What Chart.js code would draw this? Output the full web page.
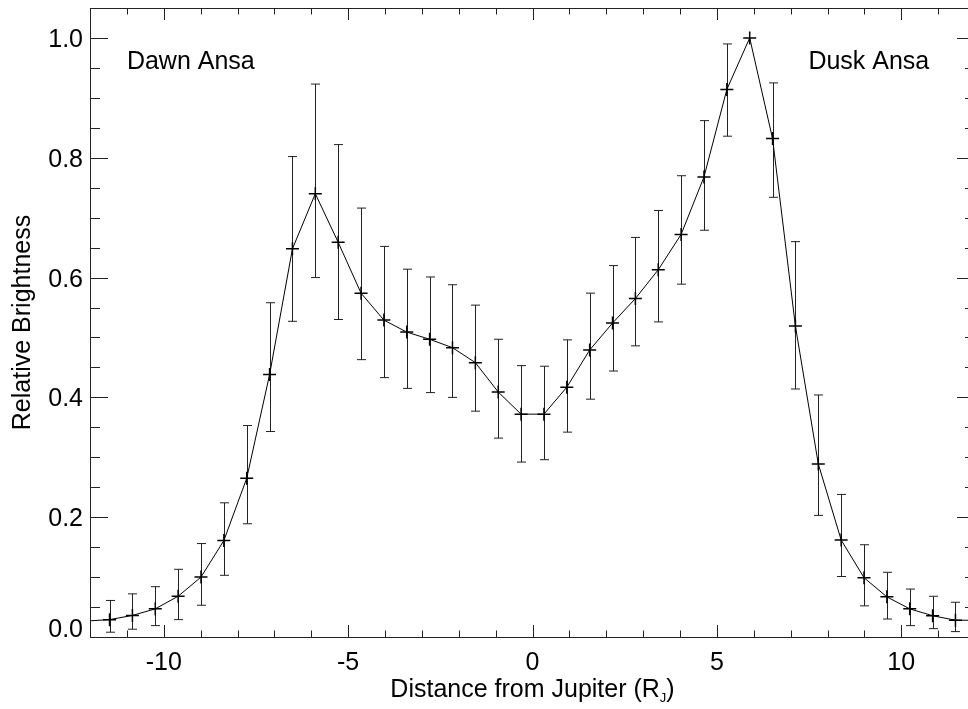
<!DOCTYPE html>
<html>
<head>
<meta charset="utf-8">
<script src="https://cdn.jsdelivr.net/npm/chart.js@4"></script>
<style>
  html, body { margin: 0; padding: 0; background: #fff; overflow: hidden; }
  #wrap { width: 968px; height: 709px; overflow: hidden; }
</style>
</head>
<body>
<div id="wrap"><canvas id="brightness" width="984" height="709"></canvas></div>
<script>
// distance from Jupiter (R_J) of each sample
const distance = [-11.47, -10.85, -10.23, -9.61, -8.99, -8.37, -7.75, -7.13, -6.51, -5.89,
  -5.27, -4.65, -4.03, -3.41, -2.79, -2.17, -1.55, -0.93, -0.31, 0.31,
  0.93, 1.55, 2.17, 2.79, 3.41, 4.03, 4.65, 5.27, 5.89, 6.51,
  7.13, 7.75, 8.37, 8.99, 9.61, 10.23, 10.85, 11.47];
const brightness = [0.029, 0.036, 0.047, 0.068, 0.100, 0.161, 0.265, 0.438, 0.648, 0.740,
  0.659, 0.574, 0.529, 0.509, 0.497, 0.483, 0.458, 0.409, 0.372, 0.372,
  0.417, 0.479, 0.524, 0.565, 0.613, 0.672, 0.768, 0.914, 1.000, 0.832,
  0.519, 0.289, 0.162, 0.099, 0.067, 0.047, 0.0355, 0.028];
const errLow = [0.008, 0.013, 0.019, 0.029, 0.053, 0.103, 0.189, 0.343, 0.527, 0.600,
  0.530, 0.463, 0.433, 0.415, 0.408, 0.400, 0.377, 0.332, 0.292, 0.296,
  0.342, 0.397, 0.444, 0.486, 0.526, 0.589, 0.679, 0.836, 1.000, 0.734,
  0.414, 0.203, 0.101, 0.052, 0.030, 0.019, 0.014, 0.009];
const errHigh = [0.061, 0.072, 0.084, 0.113, 0.156, 0.224, 0.353, 0.558, 0.802, 0.923,
  0.822, 0.716, 0.652, 0.614, 0.601, 0.588, 0.554, 0.497, 0.453, 0.452,
  0.496, 0.574, 0.620, 0.667, 0.712, 0.770, 0.862, 0.990, 1.000, 0.925,
  0.660, 0.404, 0.238, 0.154, 0.108, 0.080, 0.068, 0.058];
// where the curve meets the frame
const edgeX = [-12, 12];
const edgeY = [0.027, 0.028];

const xTicks = [-10, -5, 0, 5, 10];
const xTickLabels = ['-10', '-5', '0', '5', '10'];
const yTicks = [0, 0.2, 0.4, 0.6, 0.8, 1.0];
const yTickLabels = ['0.0', '0.2', '0.4', '0.6', '0.8', '1.0'];

const FONT = '25px "Liberation Sans", Arial, sans-serif';

const curve = [{x: edgeX[0], y: edgeY[0]}]
  .concat(distance.map((d, i) => ({x: d, y: brightness[i]})))
  .concat([{x: edgeX[1], y: edgeY[1]}]);
const points = distance.map((d, i) => ({x: d, y: brightness[i]}));

const errorBars = {
  id: 'errorBars',
  beforeDatasetsDraw(chart) {
    const {ctx, scales: {x, y}} = chart;
    ctx.save();
    ctx.strokeStyle = '#222';
    ctx.lineWidth = 1;
    distance.forEach((d, i) => {
      if (errHigh[i] - errLow[i] <= 0) return;
      const px = Math.round(x.getPixelForValue(d)) + 0.5;
      const top = y.getPixelForValue(errHigh[i]);
      const bot = y.getPixelForValue(errLow[i]);
      ctx.beginPath();
      ctx.moveTo(px, top); ctx.lineTo(px, bot);
      ctx.moveTo(px - 4.5, top); ctx.lineTo(px + 4.5, top);
      ctx.moveTo(px - 4.5, bot); ctx.lineTo(px + 4.5, bot);
      ctx.stroke();
    });
    ctx.restore();
  }
};

const frame = {
  id: 'frame',
  afterDraw(chart) {
    const {ctx, chartArea: a, scales: {x, y}} = chart;
    ctx.save();
    ctx.strokeStyle = '#222';
    ctx.lineWidth = 1;
    ctx.strokeRect(a.left + 0.5, a.top + 0.5, a.right - a.left, a.bottom - a.top);
    ctx.beginPath();
    // x ticks, inward on bottom and top
    for (let v = -12; v <= 12; v++) {
      const px = Math.round(x.getPixelForValue(v)) + 0.5;
      const len = v % 5 === 0 ? 12 : 6.5;
      ctx.moveTo(px, a.bottom); ctx.lineTo(px, a.bottom - len);
      ctx.moveTo(px, a.top); ctx.lineTo(px, a.top + len);
    }
    // y ticks, inward on left and right
    for (let k = 0; k <= 21; k++) {
      const v = k * 0.05;
      const py = Math.round(y.getPixelForValue(v)) + 0.5;
      const len = k % 4 === 0 ? 18 : 10;
      ctx.moveTo(a.left, py); ctx.lineTo(a.left + len, py);
      ctx.moveTo(a.right, py); ctx.lineTo(a.right - len, py);
    }
    ctx.stroke();

    ctx.fillStyle = '#000';
    ctx.font = FONT;
    ctx.textBaseline = 'alphabetic';
    ctx.textAlign = 'center';
    xTicks.forEach((v, i) => ctx.fillText(xTickLabels[i], x.getPixelForValue(v), 670));
    ctx.textAlign = 'right';
    yTicks.forEach((v, i) => {
      const py = y.getPixelForValue(v);
      ctx.fillText(yTickLabels[i], a.left - 7, v === 0 ? a.bottom : py + 9);
    });

    // x title with subscript
    const main = 'Distance from Jupiter (R';
    ctx.font = FONT;
    const w1 = ctx.measureText(main).width;
    ctx.font = '13px "Liberation Sans", Arial, sans-serif';
    const w2 = ctx.measureText('J').width;
    ctx.font = FONT;
    const w3 = ctx.measureText(')').width;
    const cx = (a.left + a.right) / 2;
    let sx = cx - (w1 + w2 + w3) / 2;
    ctx.textAlign = 'left';
    ctx.fillText(main, sx, 697);
    ctx.font = '13px "Liberation Sans", Arial, sans-serif';
    ctx.fillText('J', sx + w1, 702);
    ctx.font = FONT;
    ctx.fillText(')', sx + w1 + w2, 697);

    // y title
    ctx.save();
    ctx.translate(30, (a.top + a.bottom) / 2);
    ctx.rotate(-Math.PI / 2);
    ctx.textAlign = 'center';
    ctx.fillText('Relative Brightness', 0, 0);
    ctx.restore();

    // annotations
    ctx.textAlign = 'left';
    ctx.fillText('Dawn Ansa', x.getPixelForValue(-11), y.getPixelForValue(0.948));
    ctx.textAlign = 'right';
    ctx.fillText('Dusk Ansa', x.getPixelForValue(10.76), y.getPixelForValue(0.948));
    ctx.restore();
  }
};

new Chart(document.getElementById('brightness').getContext('2d'), {
  type: 'scatter',
  data: {
    datasets: [{
      label: 'curve',
      data: curve,
      showLine: true,
      borderColor: '#000',
      borderWidth: 1,
      pointRadius: 0,
      tension: 0
    }, {
      label: 'samples',
      data: points,
      showLine: false,
      pointStyle: 'cross',
      pointRadius: 6.5,
      borderColor: '#000',
      borderWidth: 1.5
    }]
  },
  options: {
    responsive: false,
    animation: false,
    layout: { padding: { left: 90, right: 9, top: 7, bottom: 72 } },
    plugins: { legend: { display: false }, tooltip: { enabled: false } },
    scales: {
      x: { type: 'linear', min: -12, max: 12, display: false },
      y: { type: 'linear', min: 0, max: 1.05, display: false }
    }
  },
  plugins: [errorBars, frame]
});
</script>
</body>
</html>
